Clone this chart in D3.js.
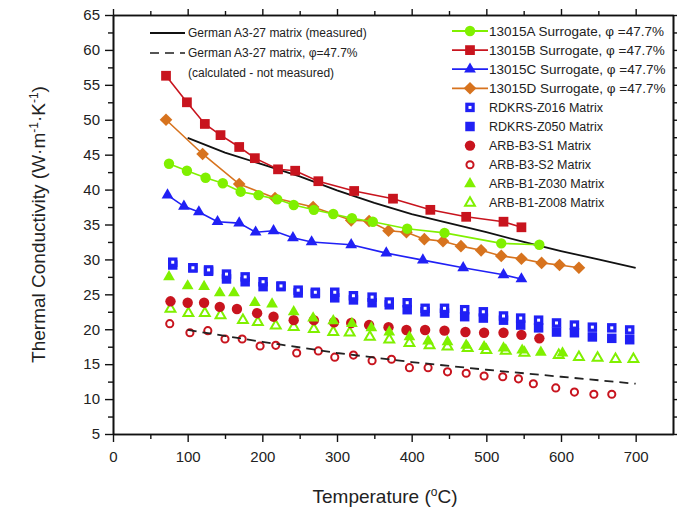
<!DOCTYPE html>
<html>
<head>
<meta charset="UTF-8">
<script src="https://d3js.org/d3.v7.min.js"></script>
<style>
  body { margin: 0; background: #fff; }
  svg text { font-family: "Liberation Sans", Arial, sans-serif; fill: #222; }
</style>
</head>
<body>
<svg id="chart" width="677" height="511"></svg>
<script>
// ---- data (temperature in C, conductivity in W/m/K) ----
var measuredT = [100, 150, 200, 250, 300, 350, 400, 450, 500, 550, 600, 650, 700];
var measuredK = [47.4, 45.3, 43.6, 41.9, 39.9, 38.1, 36.5, 35.2, 33.9, 32.5, 31.2, 30.0, 28.8];

var calcT = [100, 200, 300, 400, 500, 600, 700];
var calcK = [19.9, 18.2, 16.6, 15.3, 14.2, 13.2, 12.2];

var s13015A_T = [75, 99, 124, 147, 171, 195, 220, 242, 269, 295, 320, 348, 394, 444, 520, 571];
var s13015A_K = [43.7, 42.7, 41.7, 40.9, 39.7, 39.2, 38.6, 37.8, 37.1, 36.5, 35.9, 35.4, 34.4, 33.8, 32.3, 32.1];

var s13015B_T = [71, 99, 123, 144, 169, 190, 221, 244, 275, 323, 375, 425, 473, 523, 547];
var s13015B_K = [56.3, 52.5, 49.4, 47.8, 46.1, 44.5, 42.9, 42.7, 41.2, 39.8, 38.7, 37.1, 36.1, 35.4, 34.6];

var s13015C_T = [73, 95, 115, 140, 169, 191, 215, 241, 266, 319, 366, 415, 469, 523, 547];
var s13015C_K = [39.2, 37.6, 36.8, 35.4, 35.2, 33.9, 34.1, 33.1, 32.5, 32.1, 30.9, 29.9, 28.8, 27.8, 27.2];

var s13015D_T = [71, 120, 169, 217, 268, 319, 343, 369, 393, 417, 442, 466, 493, 520, 547, 574, 598, 624];
var s13015D_K = [50.0, 45.1, 40.8, 38.8, 37.5, 35.6, 35.5, 34.1, 33.9, 32.9, 32.6, 31.9, 31.3, 30.5, 30.1, 29.5, 29.2, 28.8];

var rdkrsT = [80, 107, 128, 152, 177, 201, 225, 248, 271, 297, 322, 347, 370, 394, 418, 444, 471, 496, 523, 546, 570, 594, 618, 642, 668, 692];
var z016K = [29.6, 28.8, 28.5, 27.9, 27.5, 26.8, 26.2, 25.6, 25.3, 25.3, 24.8, 24.6, 23.9, 23.8, 23.0, 23.0, 22.8, 22.5, 21.9, 21.6, 21.3, 20.9, 20.6, 20.3, 20.2, 19.9];
var z050K = [29.2, 28.8, 28.3, 27.2, 26.8, 26.1, 26.1, 25.2, 25.1, 24.5, 24.2, 23.8, 23.5, 22.8, 22.5, 22.3, 21.8, 21.6, 21.3, 20.6, 20.2, 19.6, 19.5, 18.9, 18.7, 18.5];

var s1T = [77, 100, 122, 143, 166, 193, 215, 242, 269, 296, 319, 343, 369, 393, 418, 444, 472, 497, 523, 547, 571];
var s1K = [24.0, 23.8, 23.8, 23.2, 22.9, 22.3, 21.8, 21.3, 21.3, 21.0, 20.9, 20.6, 20.3, 19.9, 19.9, 19.8, 19.6, 19.5, 19.5, 19.2, 18.7];

var s2T = [76, 103, 127, 150, 173, 197, 218, 246, 275, 297, 322, 347, 373, 397, 422, 448, 473, 497, 522, 543, 563, 593, 618, 644, 668];
var s2K = [20.8, 19.5, 19.8, 18.6, 18.6, 17.6, 17.7, 16.6, 16.9, 16.0, 16.3, 15.5, 15.7, 14.5, 14.5, 13.9, 13.7, 13.3, 13.2, 12.9, 12.2, 11.6, 11.0, 10.7, 10.7];

var z030T = [75, 100, 122, 143, 162, 190, 213, 242, 268, 295, 320, 346, 370, 397, 422, 448, 473, 497, 523, 548, 573, 602];
var z030K = [27.5, 26.2, 26.1, 25.2, 25.2, 23.8, 23.6, 22.5, 21.6, 21.2, 20.8, 20.2, 19.6, 18.9, 18.3, 18.2, 17.7, 17.5, 17.3, 17.0, 16.7, 16.6];

var z008T = [77, 101, 123, 144, 174, 194, 218, 242, 269, 295, 317, 344, 370, 397, 424, 448, 475, 500, 526, 551, 597, 624, 649, 673, 697];
var z008K = [22.9, 22.3, 22.3, 22.0, 21.3, 21.0, 20.5, 20.3, 20.0, 19.6, 19.5, 18.9, 18.5, 18.0, 17.7, 17.5, 17.3, 17.0, 16.9, 16.6, 16.3, 16.0, 15.9, 15.7, 15.7];

var xTicks = [0, 100, 200, 300, 400, 500, 600, 700];
var yTicks = [5, 10, 15, 20, 25, 30, 35, 40, 45, 50, 55, 60, 65];

var GREEN = "#80f000", RED = "#c8141e", BLUE = "#2020f5", ORANGE = "#d7731e";

function pairs(t, k) { return t.map(function (d, i) { return [d, k[i]]; }); }

var svg = d3.select("#chart");
var Left = 113, Right = 673, Top = 15, Bottom = 434;

var x = d3.scaleLinear().domain([0, 750]).range([Left, Right]);
var y = d3.scaleLinear().domain([5, 65]).range([Bottom, Top]);

// ---- axes (mirrored on all four sides, ticks outward) ----
function styleAxis(g) {
  g.selectAll("path").attr("stroke", "#111").attr("stroke-width", 1.6);
  g.selectAll("line").attr("stroke", "#111").attr("stroke-width", 1.4);
  g.selectAll("text").style("font-size", "15px").attr("fill", "#222");
}
var xMinor = d3.range(50, 750, 100);
var yMinor = d3.range(7.5, 65, 5);

svg.append("g").attr("transform", "translate(0," + Bottom + ")")
  .call(d3.axisBottom(x).tickValues(xTicks).tickSize(8).tickSizeOuter(0).tickPadding(9))
  .call(styleAxis);
svg.append("g").attr("transform", "translate(0," + Bottom + ")")
  .call(d3.axisBottom(x).tickValues(xMinor).tickSize(5).tickFormat("").tickSizeOuter(0))
  .call(styleAxis);
svg.append("g").attr("transform", "translate(0," + Top + ")")
  .call(d3.axisTop(x).tickValues(xTicks).tickSize(6).tickFormat("").tickSizeOuter(0))
  .call(styleAxis);
svg.append("g").attr("transform", "translate(0," + Top + ")")
  .call(d3.axisTop(x).tickValues(xMinor).tickSize(4).tickFormat("").tickSizeOuter(0))
  .call(styleAxis);

svg.append("g").attr("transform", "translate(" + Left + ",0)")
  .call(d3.axisLeft(y).tickValues(yTicks).tickSize(8).tickSizeOuter(0).tickPadding(5))
  .call(styleAxis);
svg.append("g").attr("transform", "translate(" + Left + ",0)")
  .call(d3.axisLeft(y).tickValues(yMinor).tickSize(5).tickFormat("").tickSizeOuter(0))
  .call(styleAxis);
svg.append("g").attr("transform", "translate(" + Right + ",0)")
  .call(d3.axisRight(y).tickValues(yTicks).tickSize(6).tickFormat("").tickSizeOuter(0))
  .call(styleAxis);
svg.append("g").attr("transform", "translate(" + Right + ",0)")
  .call(d3.axisRight(y).tickValues(yMinor).tickSize(4).tickFormat("").tickSizeOuter(0))
  .call(styleAxis);

// axis titles
var xt = svg.append("text").attr("x", (Left + Right) / 2 - 8).attr("y", 503)
  .attr("text-anchor", "middle").style("font-size", "19px");
xt.append("tspan").text("Temperature (");
xt.append("tspan").attr("dy", -7).style("font-size", "12px").text("o");
xt.append("tspan").attr("dy", 7).text("C)");

var yt = svg.append("text").attr("transform", "translate(45," + (Top + Bottom) / 2 + ") rotate(-90)")
  .attr("text-anchor", "middle").style("font-size", "19px");
yt.append("tspan").text("Thermal Conductivity (W\u00b7m");
yt.append("tspan").attr("dy", -7).style("font-size", "12px").text("-1");
yt.append("tspan").attr("dy", 7).text("\u00b7K");
yt.append("tspan").attr("dy", -7).style("font-size", "12px").text("-1");
yt.append("tspan").attr("dy", 7).text(")");

// ---- markers ----
var plot = svg.append("g");
var line = d3.line().x(function (d) { return x(d[0]); }).y(function (d) { return y(d[1]); });

function marks(data, type, size, fill, stroke, sw, rot) {
  plot.append("g").selectAll("path").data(data).enter().append("path")
    .attr("transform", function (d) { return "translate(" + x(d[0]) + "," + y(d[1]) + ")" + (rot ? " rotate(45)" : ""); })
    .attr("d", d3.symbol().type(type).size(size))
    .attr("fill", fill).attr("stroke", stroke || "none").attr("stroke-width", sw || 0);
}

// scatter matrices
marks(pairs(rdkrsT, z050K), d3.symbolSquare, 90, BLUE);
marks(pairs(rdkrsT, z016K), d3.symbolSquare, 90, BLUE);
marks(pairs(rdkrsT, z016K), d3.symbolSquare, 9, "#fff");
marks(pairs(z008T, z008K), d3.symbolTriangle, 42, "#fff", GREEN, 2);
marks(pairs(s1T, s1K), d3.symbolCircle, 85, RED);
marks(pairs(z030T, z030K), d3.symbolTriangle, 60, GREEN);
marks(pairs(s2T, s2K), d3.symbolCircle, 40, "#fff", RED, 2);

// reference lines
plot.append("path").datum(pairs(calcT, calcK)).attr("d", line)
  .attr("fill", "none").attr("stroke", "#222").attr("stroke-width", 1.8).attr("stroke-dasharray", "9,6");
plot.append("path").datum(pairs(measuredT, measuredK)).attr("d", line)
  .attr("fill", "none").attr("stroke", "#111").attr("stroke-width", 1.8);

// surrogate series
var series = [
  { t: s13015B_T, k: s13015B_K, c: RED, type: d3.symbolSquare, size: 95, rot: false },
  { t: s13015D_T, k: s13015D_K, c: ORANGE, type: d3.symbolSquare, size: 80, rot: true },
  { t: s13015A_T, k: s13015A_K, c: GREEN, type: d3.symbolCircle, size: 85, rot: false },
  { t: s13015C_T, k: s13015C_K, c: BLUE, type: d3.symbolTriangle, size: 60, rot: false }
];
series.forEach(function (s) {
  plot.append("path").datum(pairs(s.t, s.k)).attr("d", line)
    .attr("fill", "none").attr("stroke", s.c).attr("stroke-width", 1.6);
  marks(pairs(s.t, s.k), s.type, s.size, s.c, null, 0, s.rot);
});

// ---- legend (left) ----
var lg = svg.append("g").style("font-size", "12px");
lg.append("line").attr("x1", 150).attr("x2", 185).attr("y1", 33).attr("y2", 33)
  .attr("stroke", "#111").attr("stroke-width", 1.8);
lg.append("line").attr("x1", 150).attr("x2", 185).attr("y1", 53).attr("y2", 53)
  .attr("stroke", "#555").attr("stroke-width", 1.8).attr("stroke-dasharray", "9,6");
lg.append("text").attr("x", 188).attr("y", 37).text("German A3-27 matrix (measured)");
lg.append("text").attr("x", 188).attr("y", 57).text("German A3-27 matrix, \u03c6=47.7%");
lg.append("text").attr("x", 188).attr("y", 77).text("(calculated - not measured)");

// ---- legend (right) ----
var legendRows = [
  { label: "13015A Surrogate, \u03c6 =47.7%", line: GREEN, draw: function (g) { legMark(g, d3.symbolCircle, 85, GREEN); } },
  { label: "13015B Surrogate, \u03c6 =47.7%", line: RED, draw: function (g) { legMark(g, d3.symbolSquare, 95, RED); } },
  { label: "13015C Surrogate, \u03c6 =47.7%", line: BLUE, draw: function (g) { legMark(g, d3.symbolTriangle, 60, BLUE); } },
  { label: "13015D Surrogate, \u03c6 =47.7%", line: ORANGE, draw: function (g) { legMark(g, d3.symbolSquare, 80, ORANGE, null, 0, true); } },
  { label: "RDKRS-Z016 Matrix", draw: function (g) { legMark(g, d3.symbolSquare, 90, BLUE); legMark(g, d3.symbolSquare, 9, "#fff"); } },
  { label: "RDKRS-Z050 Matrix", draw: function (g) { legMark(g, d3.symbolSquare, 90, BLUE); } },
  { label: "ARB-B3-S1 Matrix", draw: function (g) { legMark(g, d3.symbolCircle, 85, RED); } },
  { label: "ARB-B3-S2 Matrix", draw: function (g) { legMark(g, d3.symbolCircle, 40, "#fff", RED, 2); } },
  { label: "ARB-B1-Z030 Matrix", draw: function (g) { legMark(g, d3.symbolTriangle, 60, GREEN); } },
  { label: "ARB-B1-Z008 Matrix", draw: function (g) { legMark(g, d3.symbolTriangle, 42, "#fff", GREEN, 2); } }
];
function legMark(g, type, size, fill, stroke, sw, rot) {
  g.append("path").attr("transform", "translate(470,0)" + (rot ? " rotate(45)" : ""))
    .attr("d", d3.symbol().type(type).size(size))
    .attr("fill", fill).attr("stroke", stroke || "none").attr("stroke-width", sw || 0);
}
var rg = svg.append("g");
legendRows.forEach(function (r, i) {
  var g = rg.append("g").attr("transform", "translate(0," + (31 + i * 19.1) + ")");
  if (r.line) g.append("line").attr("x1", 452).attr("x2", 488).attr("stroke", r.line).attr("stroke-width", 1.8);
  r.draw(g);
  g.append("text").attr("x", 489).attr("y", 4.5)
    .style("font-size", r.line ? "13.5px" : "12.5px").text(r.label);
});
</script>
</body>
</html>
